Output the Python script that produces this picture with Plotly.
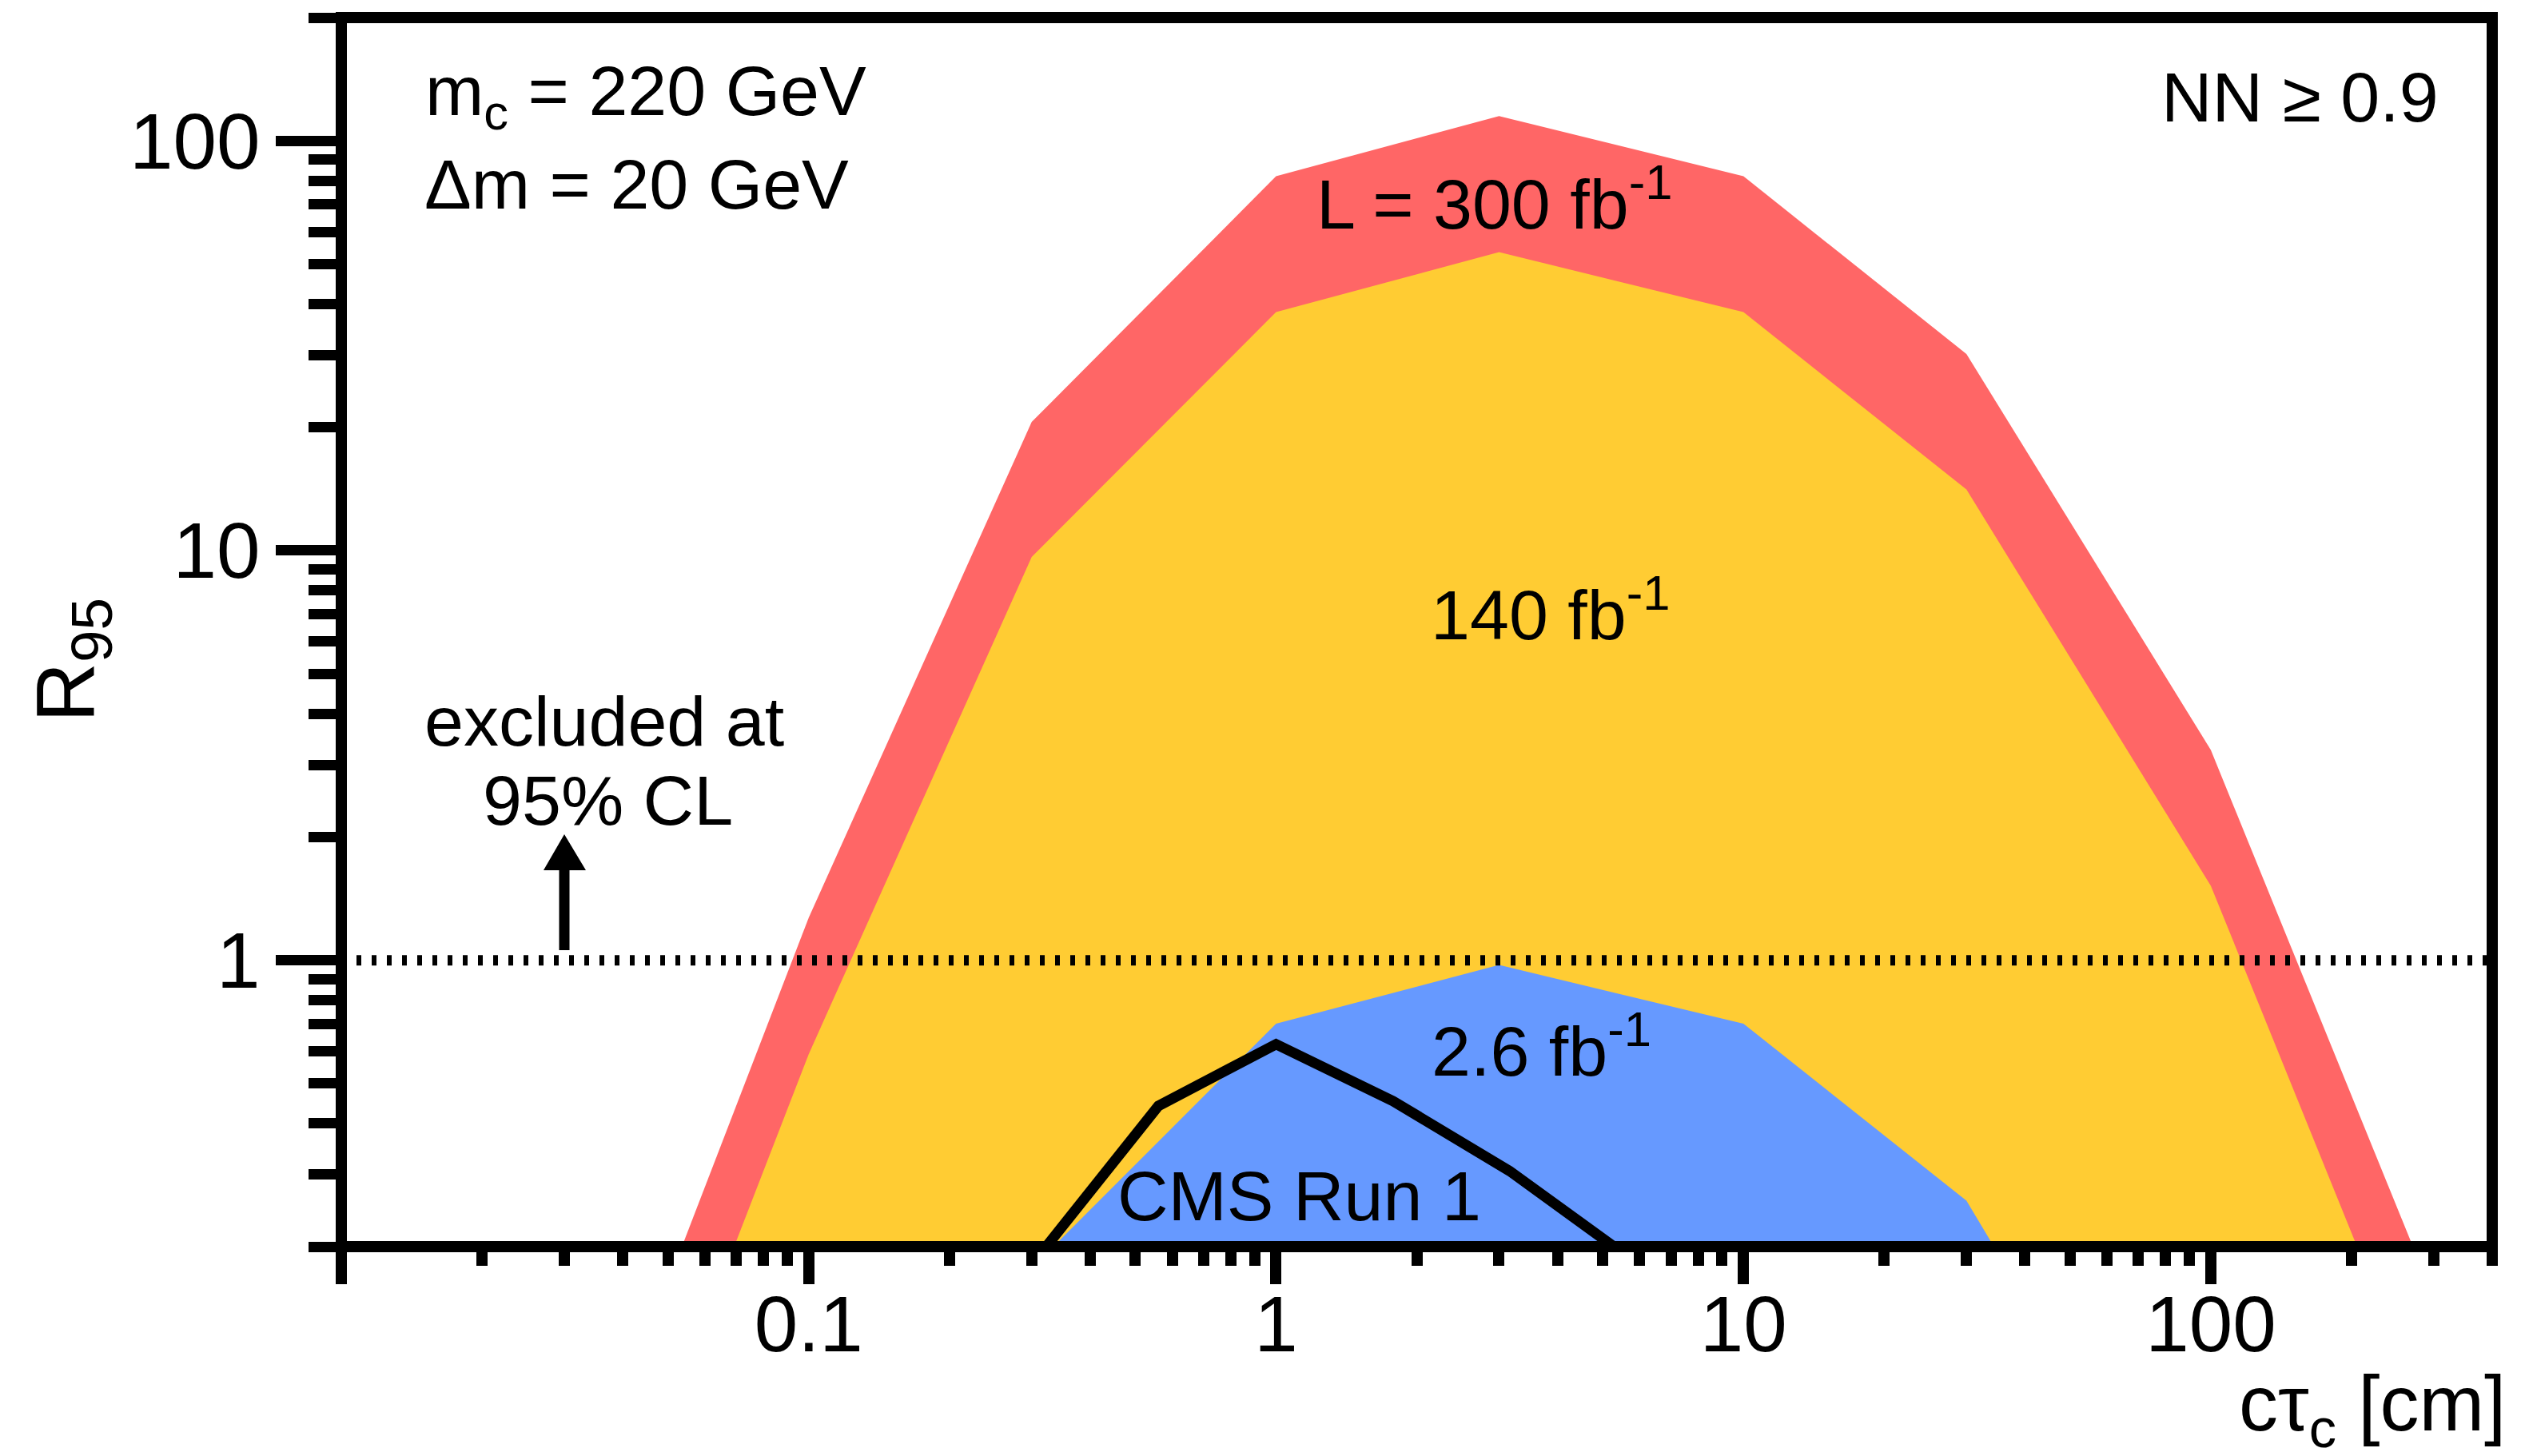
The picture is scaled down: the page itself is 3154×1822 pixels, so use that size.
import plotly.graph_objects as go

# Expected R95 limits versus proper decay length c*tau (cm)
ctau = [0.03, 0.1, 0.3, 1.0, 3.0, 10.0, 30.0, 100.0, 300.0]
r95_300fb = [0.036, 1.27, 20.6, 82.0, 115.0, 82.0, 30.2, 3.26, 0.15]
r95_140fb = [0.017, 0.59, 9.65, 38.2, 53.5, 38.2, 14.1, 1.52, 0.069]

ctau_2p6fb = [0.3, 1.0, 3.0, 10.0, 30.0, 100.0]
r95_2p6fb = [0.177, 0.70, 0.974, 0.70, 0.259, 0.026]

ctau_cms = [0.32, 0.56, 1.0, 1.78, 3.16, 5.62]
r95_cms = [0.198, 0.441, 0.624, 0.453, 0.306, 0.19]

r95_excl = 1.0

x_tickvals = [0.01, 0.1, 1, 10, 100]
x_ticktext = ["", "0.1", "1", "10", "100"]
y_tickvals = [1, 10, 100]
y_ticktext = ["1", "10", "100"]

X_RANGE = (0.01, 400.0)
Y_RANGE = (0.2, 200.0)

W, H = 3154, 1822
M_L, M_R, M_T, M_B = 427, 36, 22, 262
FONT = "Liberation Sans, Arial, Helvetica, sans-serif"

RED = "#FF6666"
YELLOW = "#FFCC33"
BLUE = "#6699FF"


def px(x):
    return (x - M_L) / (W - M_L - M_R)


def py(y):
    return (H - M_B - y) / (H - M_T - M_B)


def band(xs, ys, color):
    floor = 0.01  # below the visible range, clipped by the plot area
    return go.Scatter(
        x=list(xs) + [xs[-1], xs[0]],
        y=list(ys) + [floor, floor],
        mode="lines",
        fill="toself",
        fillcolor=color,
        line=dict(width=0, color=color),
        hoverinfo="skip",
        showlegend=False,
    )


fig = go.Figure()
fig.add_trace(band(ctau, r95_300fb, RED))
fig.add_trace(band(ctau, r95_140fb, YELLOW))
fig.add_trace(band(ctau_2p6fb, r95_2p6fb, BLUE))

# exclusion threshold
fig.add_trace(go.Scatter(
    x=list(X_RANGE), y=[r95_excl, r95_excl], mode="lines",
    line=dict(color="black", width=13, dash="6px,13px"),
    hoverinfo="skip", showlegend=False,
))

# CMS Run 1 result
fig.add_trace(go.Scatter(
    x=ctau_cms, y=r95_cms, mode="lines",
    line=dict(color="black", width=13),
    hoverinfo="skip", showlegend=False,
))

x_minor = [m * 10.0 ** e for e in range(-2, 3) for m in range(2, 10)
           if m * 10.0 ** e <= X_RANGE[1] * 1.0001]
y_minor = [m * 10.0 ** e for e in range(-1, 3) for m in range(2, 10)
           if Y_RANGE[0] * 0.9999 <= m * 10.0 ** e <= Y_RANGE[1] * 1.0001]

fig.update_xaxes(
    type="log",
    range=[-2, 2.6020600],
    showgrid=False, zeroline=False, showline=False,
    tickmode="array", tickvals=x_tickvals, ticktext=x_ticktext,
    ticks="outside", ticklen=46, tickwidth=14, tickcolor="black",
    ticklabelstandoff=-34,
    tickfont=dict(family=FONT, size=98, color="black"),
    minor=dict(tickmode="array", tickvals=x_minor, ticks="outside",
               ticklen=23, tickwidth=14, tickcolor="black", showgrid=False),
)
fig.update_yaxes(
    type="log",
    range=[-0.69897, 2.30103],
    showgrid=False, zeroline=False, showline=False,
    tickmode="array", tickvals=y_tickvals, ticktext=y_ticktext,
    ticks="outside", ticklen=81, tickwidth=13, tickcolor="black",
    tickfont=dict(family=FONT, size=98, color="black"),
    minor=dict(tickmode="array", tickvals=y_minor, ticks="outside",
               ticklen=40, tickwidth=13, tickcolor="black", showgrid=False),
)

shapes = [
    # frame
    dict(type="rect", xref="paper", yref="paper", x0=0, x1=1, y0=0, y1=1,
         line=dict(color="black", width=14), fillcolor="rgba(0,0,0,0)", layer="above"),
    # arrow shaft
    dict(type="line", xref="paper", yref="paper",
         x0=px(706), x1=px(706), y0=py(1189), y1=py(1085),
         line=dict(color="black", width=13), layer="above"),
    # arrow head
    dict(type="path", xref="paper", yref="paper",
         path="M {:.5f},{:.5f} L {:.5f},{:.5f} L {:.5f},{:.5f} Z".format(
             px(706), py(1044), px(680), py(1089), px(733), py(1089)),
         fillcolor="black", line=dict(color="black", width=0), layer="above"),
]


def label(text, x, y, size=88, xanchor="left", yanchor="middle", angle=0):
    return dict(text=text, x=px(x), y=py(y), xref="paper", yref="paper",
                xanchor=xanchor, yanchor=yanchor, showarrow=False,
                textangle=angle, font=dict(family=FONT, size=size, color="black"))


S = 88
asc, desc = 0.905, 0.212
annotations = [
    label("m<sub>c</sub> = 220 GeV", 530, 143.5 - asc * S - 2, yanchor="top"),
    label("\u0394m = 20 GeV", 529, 261 - asc * S - 2, yanchor="top"),
    label("NN \u2265 0.9", 3053, 152 - asc * S - 2, xanchor="right", yanchor="top"),
    label("L = 300 fb<sup>-1</sup>", 1645, 286 + desc * S + 2, yanchor="bottom"),
    label("140 fb<sup>-1</sup>", 1788, 800 + desc * S + 2, yanchor="bottom"),
    label("2.6 fb<sup>-1</sup>", 1789, 1346 + desc * S + 2, yanchor="bottom"),
    label("CMS Run 1", 1396, 1527 - asc * S - 2, yanchor="top"),
    label("excluded at", 756, 933 - asc * S - 2, xanchor="center", yanchor="top"),
    label("95% CL", 760, 1032 - asc * S - 2, xanchor="center", yanchor="top"),
    # axis titles
    label("R<sub>95</sub>", 89, 826, size=104, xanchor="center", yanchor="middle", angle=-90),
    label("c\u03c4<sub>c</sub> [cm]", 3137, 1790 - asc * 98 - 2, size=98,
          xanchor="right", yanchor="top"),
]

fig.update_layout(
    width=W, height=H,
    margin=dict(l=M_L, r=M_R, t=M_T, b=M_B, pad=0),
    paper_bgcolor="white", plot_bgcolor="white",
    font=dict(family=FONT, size=88, color="black"),
    showlegend=False,
    shapes=shapes,
    annotations=annotations,
)

fig.write_html("out.html")
